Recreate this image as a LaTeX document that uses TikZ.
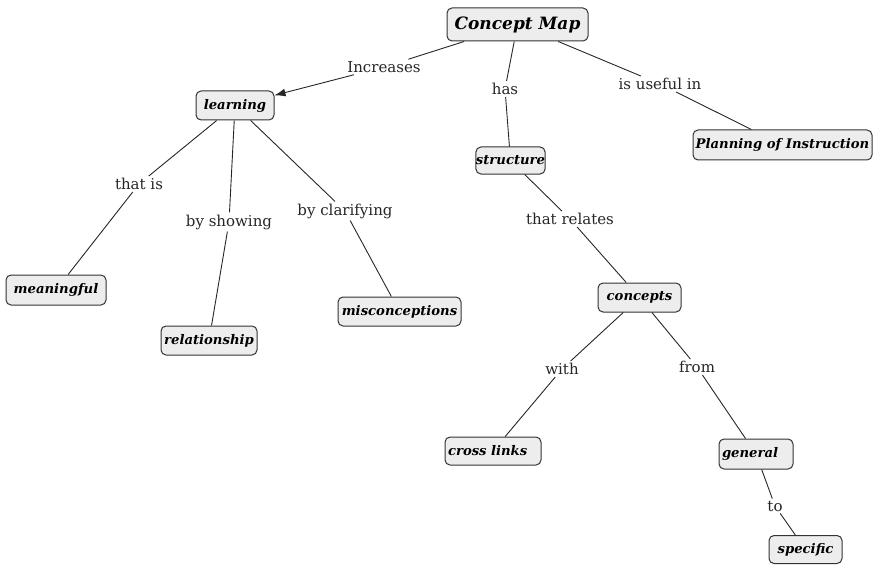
\documentclass[tikz,border=0pt]{standalone}
\usepackage{fontspec}
\setmainfont{DejaVu Serif}
\usetikzlibrary{arrows.meta}
\tikzset{
  concept/.style={draw=black!80, fill=black!7, rounded corners=5pt, line width=1pt,
    font=\fontsize{13.2}{15}\selectfont\bfseries\itshape, inner sep=0pt, minimum height=29pt},
  leftbox/.style={concept, inner xsep=3pt, align=left, text width=#1},
  lbl/.style={font=\fontsize{15}{17}\selectfont, inner sep=2pt, text=black!85},
  link/.style={draw=black!85, line width=0.9pt},
}
\begin{document}
\begin{tikzpicture}[x=1pt,y=-1pt]
\useasboundingbox (0,0) rectangle (874,564);
% concepts
\node[concept, minimum width=141pt, minimum height=33pt, font=\fontsize{17}{19}\selectfont\bfseries\itshape] (cm) at (517.5,24.5) {Concept Map};
\node[concept, minimum width=78pt] (learning) at (235,105.5) {learning};
\node[concept, minimum width=179pt, minimum height=30pt] (planning) at (782.5,145) {Planning of Instruction};
\node[concept, minimum width=61pt, minimum height=27pt] (structure) at (510.5,160.5) {structure};
\node[concept, minimum width=100pt, minimum height=30pt] (meaningful) at (56,290) {meaningful};
\node[concept, minimum width=96pt] (relationship) at (209,340.5) {relationship};
\node[concept, minimum width=123pt] (misc) at (399.5,311.5) {misconceptions};
\node[concept, minimum width=83pt] (concepts) at (639.5,297.5) {concepts};
\node[leftbox=90pt, minimum height=28pt] (cross) at (493,451) {cross links};
\node[leftbox=68pt, minimum height=30pt] (general) at (756,454) {general};
\node[concept, minimum width=73pt, minimum height=28pt] (specific) at (805.5,549.5) {specific};
% linking phrases
\node[lbl] (inc) at (384,67) {Increases};
\node[lbl] (has) at (505,89) {has};
\node[lbl] (useful) at (660,84) {is useful in};
\node[lbl] (thatis) at (139,184) {that is};
\node[lbl] (byshow) at (229,222) {by showing};
\node[lbl] (byclar) at (345,211) {by clarifying};
\node[lbl] (relates) at (570,219) {that relates};
\node[lbl] (with) at (562,369) {with};
\node[lbl] (from) at (697,367) {from};
\node[lbl] (to) at (775,506) {to};
% connectors
\draw[link] (cm) -- (inc);
\draw[link, -{Latex[length=11pt,width=8pt]}] (inc) -- (learning);
\draw[link] (cm) -- (has);
\draw[link] (has) -- (structure);
\draw[link] (cm) -- (useful);
\draw[link] (useful) -- (planning);
\draw[link] (learning) -- (thatis);
\draw[link] (thatis) -- (meaningful);
\draw[link] (learning) -- (byshow);
\draw[link] (byshow) -- (relationship);
\draw[link] (learning) -- (byclar);
\draw[link] (byclar) -- (misc);
\draw[link] (structure) -- (relates);
\draw[link] (relates) -- (concepts);
\draw[link] (concepts) -- (with);
\draw[link] (with) -- (cross);
\draw[link] (concepts) -- (from);
\draw[link] (from) -- (general);
\draw[link] (general) -- (to);
\draw[link] (to) -- (specific);
\end{tikzpicture}
\end{document}
